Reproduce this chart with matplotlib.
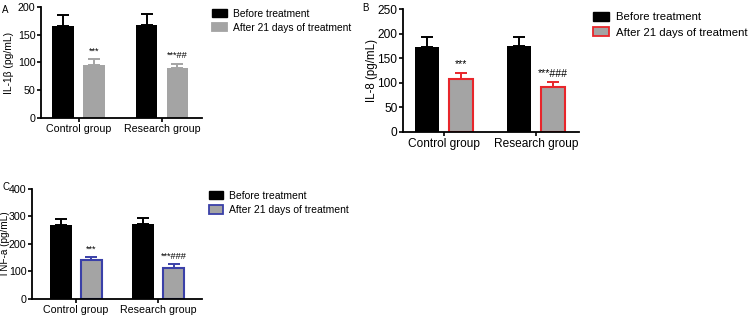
import matplotlib.pyplot as plt
from matplotlib.patches import Patch

plt.rcParams['font.family'] = ['Liberation Sans', 'DejaVu Sans']

groups = ['Control group', 'Research group']
series = ['Before treatment', 'After 21 days of treatment']

il1b_before = [166, 168]
il1b_before_err = [19, 20]
il1b_after = [96, 90]
il1b_after_err = [10, 8]
il1b_marks = ['***', '***##']

il8_before = [172, 174]
il8_before_err = [21, 20]
il8_after = [108, 91]
il8_after_err = [12, 10]
il8_marks = ['***', '***###']

tnf_before = [268, 271]
tnf_before_err = [24, 24]
tnf_after = [141, 114]
tnf_after_err = [13, 13]
tnf_marks = ['***', '***###']

gray = '#a4a4a4'


def panel(rect, letter, before, before_err, after, after_err, marks, ylabel,
          ymax, ystep, edge, xlim, fs, leg_fs, leg_xy, letter_xy, ylab_x, ylab_fs):
    ax = fig.add_axes(rect)
    x = [0, 1]
    w = 0.26
    off = 0.185
    xb = [i - off for i in x]
    xa = [i + off for i in x]
    ax.bar(xb, before, w, color='black', zorder=2)
    ax.errorbar(xb, before, yerr=[[0, 0], before_err], fmt='none', ecolor='black',
                elinewidth=1.4, capsize=4.6, capthick=1.4, zorder=1)
    ecol = edge if edge else gray
    ax.bar(xa, after, w, color=gray, edgecolor=edge if edge else gray,
           linewidth=1.5 if edge else 0, zorder=2)
    ax.errorbar(xa, after, yerr=[[0, 0], after_err], fmt='none', ecolor=ecol,
                elinewidth=1.4, capsize=4.6, capthick=1.4, zorder=1)
    for xi, yi, ei, m in zip(xa, after, after_err, marks):
        ax.text(xi, yi + ei + ymax * 0.03, m, ha='center', va='bottom', fontsize=fs - 1)
    ax.set_xlim(*xlim)
    ax.set_ylim(0, ymax)
    ax.set_yticks(range(0, ymax + 1, ystep))
    ax.set_xticks(x)
    ax.set_xticklabels(groups)
    ax.set_ylabel(ylabel, fontsize=ylab_fs)
    ax.yaxis.set_label_coords(ylab_x, 0.5)
    ax.tick_params(labelsize=fs, width=1.2, length=3, pad=1.5)
    ax.tick_params(axis='y', pad=1.0)
    for s in ['top', 'right']:
        ax.spines[s].set_visible(False)
    for s in ['left', 'bottom']:
        ax.spines[s].set_linewidth(1.3)
    handles = [Patch(facecolor='black', edgecolor='black'),
               Patch(facecolor=gray, edgecolor=edge if edge else gray, linewidth=1.3)]
    ax.legend(handles, series, loc='upper left', bbox_to_anchor=leg_xy,
              bbox_transform=fig.transFigure, frameon=False, fontsize=leg_fs,
              borderpad=0, handlelength=1.4, handleheight=0.85,
              handletextpad=0.6, labelspacing=0.4, borderaxespad=0)
    fig.text(letter_xy[0], letter_xy[1], letter, fontsize=7, ha='left', va='top')
    return ax


fig = plt.figure(figsize=(7.5, 3.16), dpi=100)

panel([0.0547, 0.6266, 0.2146, 0.3514], 'A', il1b_before, il1b_before_err,
      il1b_after, il1b_after_err, il1b_marks, 'IL-1β (pg/mL)', 200, 50, None,
      (-0.449, 1.479), 7.7, 7.4, (0.283, 0.972), (0.003, 0.985), -0.168, 7.4)
panel([0.5373, 0.5823, 0.2347, 0.3892], 'B', il8_before, il8_before_err,
      il8_after, il8_after_err, il8_marks, 'IL-8 (pg/mL)', 250, 50, '#e8262b',
      (-0.446, 1.467), 8.6, 8.2, (0.791, 0.962), (0.483, 0.99), -0.142, 8.3)
panel([0.0427, 0.0538, 0.2266, 0.3481], 'C', tnf_before, tnf_before_err,
      tnf_after, tnf_after_err, tnf_marks, 'TNF-a (pg/mL)', 400, 100, '#3a40a8',
      (-0.535, 1.53), 7.7, 7.5, (0.278, 0.396), (0.003, 0.425), -0.128, 7.2)

fig.savefig('out.png', dpi=100)
